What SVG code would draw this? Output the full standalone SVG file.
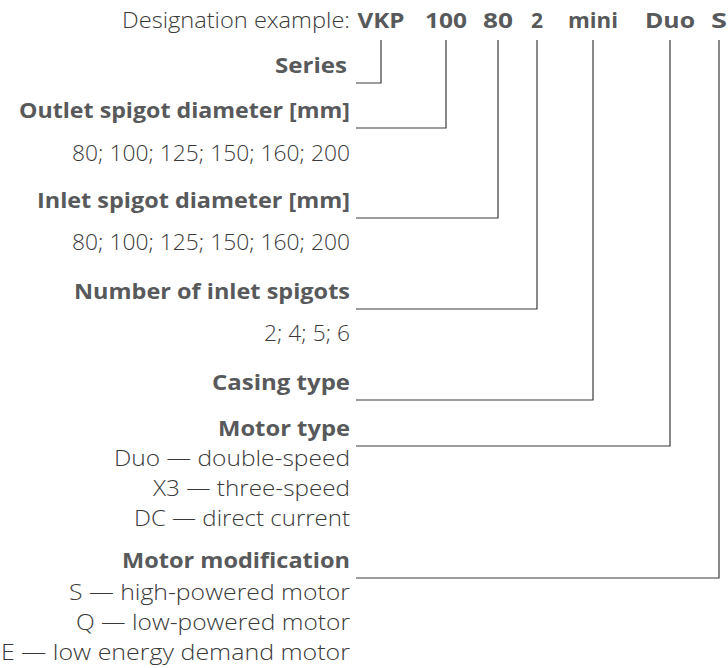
<svg xmlns="http://www.w3.org/2000/svg" width="728" height="668" viewBox="0 0 728 668">
<style>
text{font-family:"Open Sans","Noto Sans","DejaVu Sans",sans-serif;font-size:22px;text-anchor:end}
.b{font-weight:700;fill:#58595b}
.l{font-weight:300;fill:#3a3a3a}
.c{text-anchor:middle}
.conn{fill:none;stroke:#3a3a3a;stroke-width:1.2}
</style>
<rect width="728" height="668" fill="#ffffff"/>
<g id="header">
<text class="l" x="350" y="28" textLength="228" lengthAdjust="spacingAndGlyphs">Designation example:</text>
<text class="b c" x="381" y="28" textLength="47" lengthAdjust="spacingAndGlyphs">VKP</text>
<text class="b c" x="446" y="28" textLength="42" lengthAdjust="spacingAndGlyphs">100</text>
<text class="b c" x="498" y="28" textLength="30" lengthAdjust="spacingAndGlyphs">80</text>
<text class="b c" x="537" y="28" textLength="12" lengthAdjust="spacingAndGlyphs">2</text>
<text class="b c" x="593" y="28" textLength="50" lengthAdjust="spacingAndGlyphs">mini</text>
<text class="b c" x="670" y="28" textLength="50" lengthAdjust="spacingAndGlyphs">Duo</text>
<text class="b c" x="719" y="28" textLength="16" lengthAdjust="spacingAndGlyphs">S</text>
</g>
<g id="series"><text class="b" x="347" y="73" textLength="72" lengthAdjust="spacingAndGlyphs">Series</text></g>
<g id="outlet"><text class="b" x="350" y="118" textLength="331" lengthAdjust="spacingAndGlyphs">Outlet spigot diameter [mm]</text>
<text class="l" x="350" y="161" textLength="278" lengthAdjust="spacingAndGlyphs">80; 100; 125; 150; 160; 200</text></g>
<g id="inlet"><text class="b" x="350" y="208" textLength="313" lengthAdjust="spacingAndGlyphs">Inlet spigot diameter [mm]</text>
<text class="l" x="350" y="250" textLength="278" lengthAdjust="spacingAndGlyphs">80; 100; 125; 150; 160; 200</text></g>
<g id="number"><text class="b" x="350" y="299" textLength="276" lengthAdjust="spacingAndGlyphs">Number of inlet spigots</text>
<text class="l" x="350" y="341" textLength="86" lengthAdjust="spacingAndGlyphs">2; 4; 5; 6</text></g>
<g id="casing"><text class="b" x="350" y="390" textLength="138" lengthAdjust="spacingAndGlyphs">Casing type</text></g>
<g id="motor-type"><text class="b" x="350" y="436" textLength="132" lengthAdjust="spacingAndGlyphs">Motor type</text>
<text class="l" x="350" y="466" textLength="236" lengthAdjust="spacingAndGlyphs">Duo — double-speed</text>
<text class="l" x="350" y="496" textLength="197" lengthAdjust="spacingAndGlyphs">X3 — three-speed</text>
<text class="l" x="350" y="526" textLength="216" lengthAdjust="spacingAndGlyphs">DC — direct current</text></g>
<g id="motor-mod"><text class="b" x="350" y="568" textLength="228" lengthAdjust="spacingAndGlyphs">Motor modification</text>
<text class="l" x="350" y="600" textLength="281" lengthAdjust="spacingAndGlyphs">S — high-powered motor</text>
<text class="l" x="350" y="630" textLength="274" lengthAdjust="spacingAndGlyphs">Q — low-powered motor</text>
<text class="l" x="350" y="660" textLength="349" lengthAdjust="spacingAndGlyphs">E — low energy demand motor</text></g>
<g id="connectors">
<polyline class="conn" points="381,40 381,83 356,83"/>
<polyline class="conn" points="446,40 446,128 356,128"/>
<polyline class="conn" points="498,40 498,218 356,218"/>
<polyline class="conn" points="537,40 537,309 356,309"/>
<polyline class="conn" points="593,40 593,400 356,400"/>
<polyline class="conn" points="670,40 670,446 356,446"/>
<polyline class="conn" points="719,40 719,578 356,578"/>
</g>
</svg>
